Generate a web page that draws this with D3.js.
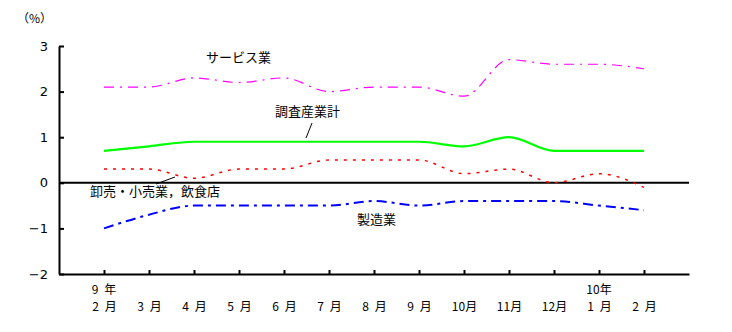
<!DOCTYPE html>
<html><head><meta charset="utf-8">
<script src="https://cdn.jsdelivr.net/npm/d3@7"></script>
<style>
html,body{margin:0;padding:0;background:#fff;}
text{font-family:"Noto Sans CJK JP","Noto Sans",sans-serif;fill:#000;white-space:pre;}
</style></head>
<body>
<svg id="chart" width="732" height="332"></svg>
<script>
// Month categories (Feb 1997 .. Feb 1998)
const months = ["2\u2002月","3\u2002月","4\u2002月","5\u2002月","6\u2002月","7\u2002月","8\u2002月","9\u2002月","10月","11月","12月","1\u2002月","2\u2002月"];
const yearLabels = [{idx:0,text:"9\u2002年"},{idx:11,text:"10年"}];
const yTicks = [-2,-1,0,1,2,3];

// Year-on-year change (%)
const service   = [2.1,2.1,2.3,2.2,2.3,2.0,2.1,2.1,1.9,2.7,2.6,2.6,2.5];
const total     = [0.7,0.8,0.9,0.9,0.9,0.9,0.9,0.9,0.8,1.0,0.7,0.7,0.7];
const retail    = [0.3,0.3,0.1,0.3,0.3,0.5,0.5,0.5,0.2,0.3,0.0,0.2,-0.1];
const manufact  = [-1.0,-0.7,-0.5,-0.5,-0.5,-0.5,-0.4,-0.5,-0.4,-0.4,-0.4,-0.5,-0.6];

const svg = d3.select("#chart");
const x = d3.scaleLinear().domain([-1, 13]).range([59, 689]);
const y = d3.scaleLinear().domain([-2, 3]).range([274, 46]);

const line = d3.line().x((d,i)=>x(i)).y(d=>y(d)).curve(d3.curveMonotoneX);

const series = [
  {data:service,  color:"#ff00ff", width:1.2, dash:"10,6,2,6"},
  {data:total,    color:"#00ff00", width:2.2, dash:null},
  {data:retail,   color:"#ff0000", width:1.5, dash:"3,6"},
  {data:manufact, color:"#0000ff", width:2,   dash:"10,5,3,5"}
];

// Zero line
svg.append("line").attr("x1",x(-1)).attr("x2",x(13)).attr("y1",y(0)).attr("y2",y(0))
  .attr("stroke","#000").attr("stroke-width",2);

series.forEach(s=>{
  svg.append("path").attr("d",line(s.data)).attr("fill","none")
    .attr("stroke",s.color).attr("stroke-width",s.width)
    .attr("stroke-dasharray",s.dash);
});

// Y axis
const yAxis = svg.append("g").attr("transform",`translate(${x(-1)},0)`)
  .call(d3.axisLeft(y).tickValues(yTicks).tickSizeInner(-5).tickSizeOuter(0)
    .tickFormat(d=>d<0? "\u2212"+Math.abs(d) : d));
yAxis.select(".domain").attr("stroke","#000").attr("stroke-width",2);
yAxis.selectAll(".tick line").attr("stroke","#000").attr("stroke-width",2);
yAxis.selectAll(".tick text").attr("x",-11).attr("font-size",13)
  .style("font-family","'DejaVu Sans',sans-serif");

// X axis
const xAxis = svg.append("g").attr("transform",`translate(0,${y(-2)})`)
  .call(d3.axisBottom(x).tickValues(d3.range(months.length)).tickSizeInner(-4).tickSizeOuter(0)
    .tickFormat(i=>months[i]));
xAxis.select(".domain").attr("stroke","#000").attr("stroke-width",2);
xAxis.selectAll(".tick line").attr("stroke","#000").attr("stroke-width",2);
xAxis.selectAll(".tick text").attr("y",37).attr("dy",null).attr("font-size",12);

yearLabels.forEach(l=>{
  svg.append("text").attr("x",x(l.idx)).attr("y",294).attr("text-anchor","middle")
    .attr("font-size",12).text(l.text);
});

svg.append("text").attr("x",17).attr("y",23).attr("font-size",12).text("（%）");

// Series labels
svg.append("text").attr("x",206).attr("y",62).attr("font-size",13).text("サービス業");
svg.append("text").attr("x",275).attr("y",116).attr("font-size",13).text("調査産業計");
svg.append("line").attr("x1",306).attr("y1",138).attr("x2",312).attr("y2",123)
  .attr("stroke","#000").attr("stroke-width",1);
svg.append("text").attr("x",90).attr("y",196).attr("font-size",13).text("卸売・小売業，飲食店");
svg.append("line").attr("x1",156).attr("y1",184).attr("x2",175).attr("y2",177)
  .attr("stroke","#000").attr("stroke-width",1);
svg.append("text").attr("x",357).attr("y",224).attr("font-size",13).text("製造業");
</script>
</body></html>
